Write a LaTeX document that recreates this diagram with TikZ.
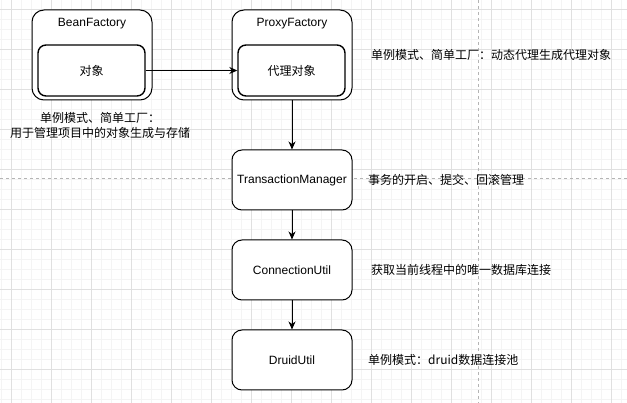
\documentclass[tikz,border=0pt]{standalone}
\usepackage{fontspec}
\setmainfont{Liberation Sans}
\newfontfamily\cjk{Noto Sans CJK SC}
\usetikzlibrary{arrows.meta}

\definecolor{minorgrid}{HTML}{F4F4F4}
\definecolor{majorgrid}{HTML}{E0E0E0}
\definecolor{pagebreak}{HTML}{B4B4B4}

\tikzset{
    every node/.style={font=\fontsize{12}{14}\selectfont, inner sep=0pt},
    frame/.style={draw, line width=1pt, rounded corners=12pt, minimum width=120pt, minimum height=90pt},
    objbox/.style={draw, line width=1.4pt, rounded corners=8pt, minimum width=107pt, minimum height=51pt},
    classbox/.style={draw, line width=1pt, rounded corners=10pt, minimum width=120pt, minimum height=60pt},
    note/.style={anchor=west, font=\fontsize{12}{14}\selectfont\cjk},
    link/.style={line width=1pt, -{Stealth[length=8pt, width=7pt, inset=2.5pt]}}
}

\begin{document}
\begin{tikzpicture}[x=1pt, y=-1pt]

    \useasboundingbox (0,0) rectangle (627,403);

    % Grid
    \foreach \x in {1,11,...,621} {
        \draw[minorgrid, line width=1pt] (\x,0) -- (\x,403);
    }
    \foreach \y in {0,10,...,400} {
        \draw[minorgrid, line width=1pt] (0,\y) -- (627,\y);
    }
    \foreach \x in {11,51,...,611} {
        \draw[majorgrid, line width=1pt] (\x,0) -- (\x,403);
    }
    \foreach \y in {10,50,...,370} {
        \draw[majorgrid, line width=1pt] (0,\y) -- (627,\y);
    }

    % Page breaks
    \draw[pagebreak, line width=1pt, dash pattern=on 3pt off 3pt] (478,0) -- (478,403);
    \draw[pagebreak, line width=1pt, dash pattern=on 3pt off 3pt] (0,179) -- (627,179);

    % Factories
    \node[frame, fill=white] (beanF) at (92,55) {};
    \node (beanTitle) at (92,24) {BeanFactory};
    \node[objbox, fill=white] (beanObj) at (91.5,70.5) {\cjk 对象};

    \node[frame, fill=white] (proxyF) at (292,55) {};
    \node (proxyTitle) at (292,24) {ProxyFactory};
    \node[objbox, fill=white] (proxyObj) at (291.5,70.5) {\cjk 代理对象};

    % Classes
    \node[classbox, fill=white] (txMgr) at (292,180) {TransactionManager};
    \node[classbox, fill=white] (connUtil) at (292,270) {ConnectionUtil};
    \node[classbox, fill=white] (druidUtil) at (292,360) {DruidUtil};

    % Connectors
    \draw[link] (beanObj) -- (proxyObj);
    \draw[link] (proxyF) -- (txMgr);
    \draw[link] (txMgr) -- (connUtil);
    \draw[link] (connUtil) -- (druidUtil);

    % Notes
    \node[align=center, font=\fontsize{12}{15}\selectfont\cjk] (beanNote) at (100,125) {单例模式、简单工厂：\\用于管理项目中的对象生成与存储};
    \node[note] (proxyNote) at (371,55) {单例模式、简单工厂：动态代理生成代理对象};
    \node[note] (txNote) at (368,180) {事务的开启、提交、回滚管理};
    \node[note] (connNote) at (371,270) {获取当前线程中的唯一数据库连接};
    \node[note] (druidNote) at (368,360) {单例模式：druid数据连接池};

\end{tikzpicture}
\end{document}
